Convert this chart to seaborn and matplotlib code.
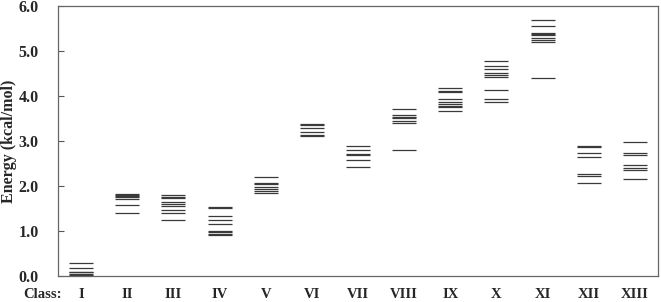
import matplotlib
matplotlib.use("Agg")
import matplotlib.pyplot as plt
import seaborn as sns
import pandas as pd

classes = ["I", "II", "III", "IV", "V", "VI", "VII", "VIII", "IX", "X", "XI", "XII", "XIII"]

e_I = [0.29, 0.17, 0.10, 0.08, 0.05, 0.03, 0.01]
e_II = [1.82, 1.80, 1.78, 1.75, 1.72, 1.58, 1.40]
e_III = [1.79, 1.76, 1.74, 1.64, 1.61, 1.56, 1.47, 1.39, 1.25]
e_IV = [1.54, 1.52, 1.33, 1.24, 1.15, 1.01, 0.97, 0.94, 0.91]
e_V = [2.20, 2.07, 2.04, 1.98, 1.93, 1.89, 1.84]
e_VI = [3.38, 3.35, 3.28, 3.20, 3.14, 3.11]
e_VII = [2.88, 2.80, 2.72, 2.68, 2.58, 2.42]
e_VIII = [3.72, 3.57, 3.54, 3.51, 3.44, 3.41, 2.81]
e_IX = [4.17, 4.11, 4.08, 3.93, 3.87, 3.82, 3.78, 3.75, 3.67]
e_X = [4.78, 4.67, 4.61, 4.52, 4.47, 4.43, 4.14, 3.93, 3.86]
e_XI = [5.70, 5.56, 5.39, 5.37, 5.35, 5.28, 5.24, 5.21, 4.40]
e_XII = [2.89, 2.86, 2.73, 2.64, 2.26, 2.22, 2.07]
e_XIII = [2.98, 2.73, 2.69, 2.47, 2.39, 2.35, 2.15]

energies = [e_I, e_II, e_III, e_IV, e_V, e_VI, e_VII, e_VIII, e_IX, e_X, e_XI, e_XII, e_XIII]
y_ticks = [0.0, 1.0, 2.0, 3.0, 4.0, 5.0, 6.0]

rows = []
for i, (c, vals) in enumerate(zip(classes, energies)):
    for v in vals:
        rows.append({"pos": i, "cls": c, "energy": v})
df = pd.DataFrame(rows)

sns.set_style("white")
plt.rcParams["font.family"] = ["Liberation Serif", "DejaVu Serif"]
plt.rcParams["font.weight"] = "bold"

fig = plt.figure(figsize=(6.61, 3.02), dpi=100)
ax = fig.add_axes([58 / 661, 26 / 302, 600 / 661, 270 / 302])

sns.scatterplot(data=df, x="pos", y="energy", marker="_", s=280,
                color="#3a3a3a", linewidth=0.9, ax=ax, legend=False)

ax.set_xlim(-0.5, 12.5)
ax.set_ylim(0, 6)
ax.set_yticks(y_ticks)
ax.set_yticklabels([f"{t:.1f}" for t in y_ticks], fontsize=11.5, fontweight="bold")
ax.set_xticks(range(len(classes)))
ax.set_xticklabels(classes, fontsize=10.5, fontweight="bold")
ax.tick_params(axis="y", direction="in", length=4, width=0.8, color="#555555", pad=14, left=True)
ax.tick_params(axis="x", length=0, pad=9)
ax.set_xlabel("")
ax.set_ylabel("")
for sp in ax.spines.values():
    sp.set_visible(True)
    sp.set_color("#666666")
    sp.set_linewidth(0.9)

fig.text(9 / 661, 1 - 141 / 302, "Energy (kcal/mol)", rotation=90, ha="center", va="center",
         fontsize=11.5, fontweight="bold")
fig.text(42 / 661, 1 - 295 / 302, "Class:", ha="center", va="center",
         fontsize=10.5, fontweight="bold")

fig.savefig("out.png", dpi=100)
